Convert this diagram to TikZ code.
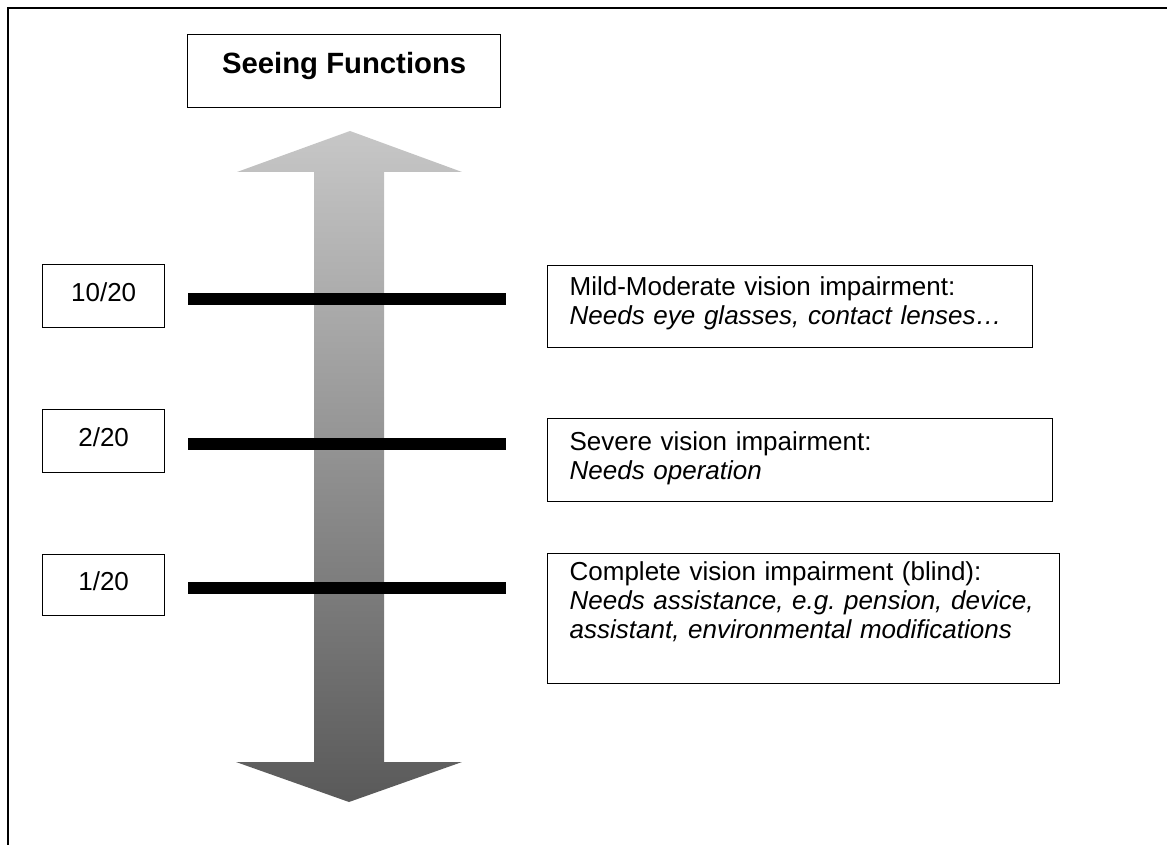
\documentclass[tikz,border=0pt]{standalone}
\usepackage{fontspec}
\setmainfont{Liberation Sans}
\frenchspacing
\definecolor{arrtop}{gray}{0.78}
\definecolor{arrbot}{gray}{0.35}
\tikzset{
  box/.style={draw, line width=1.3pt, inner sep=0pt, fill=white},
  txt/.style={font=\fontsize{26}{29}\selectfont},
  descbox/.style={box, txt, anchor=north west, align=left, inner xsep=22pt, inner ysep=0pt},
  valbox/.style={box, txt, anchor=north west, minimum width=122pt, text height=18.5pt, text depth=8.5pt},
  levelbar/.style={line width=11.5pt},
  frame/.style={line width=1.6pt}
}
\begin{document}
\begin{tikzpicture}[x=1pt,y=-1pt]
\useasboundingbox (0,0) rectangle (1167,845);
% frame
\coordinate (fbl) at (8,845);
\coordinate (ftl) at (8,8);
\coordinate (ftr) at (1167,8);
\draw[frame] (fbl) -- (ftl) -- (ftr);
% title
\node[box, anchor=north west, minimum width=313pt, minimum height=73pt,
      font=\bfseries\fontsize{29.3}{31}\selectfont, text height=25pt, text depth=20pt]
      (title) at (187,34) {Seeing Functions};
% gradient double arrow
\shade[top color=arrtop, bottom color=arrbot]
  (350,131) -- (462,172) -- (384,172) -- (384,762) -- (462,762) -- (349,802)
  -- (236,762) -- (314,762) -- (314,172) -- (237,172) -- cycle;
% value boxes
\node[valbox, minimum height=63pt] (v10) at (42,264) {10/20};
\node[valbox, minimum height=63pt] (v2) at (42,409) {2/20};
\node[valbox, minimum height=61pt] (v1) at (42,554) {1/20};
% level bars
\coordinate (b10s) at (188,299); \coordinate (b10e) at (506,299);
\coordinate (b2s) at (188,444);  \coordinate (b2e) at (506,444);
\coordinate (b1s) at (188,588);  \coordinate (b1e) at (506,588);
\draw[levelbar] (b10s) -- (b10e);
\draw[levelbar] (b2s) -- (b2e);
\draw[levelbar] (b1s) -- (b1e);
% description boxes
\node[descbox, text width=441pt, minimum height=82pt, text depth=42pt] (mild) at (547,265)
  {\mbox{Mild-Moderate vision impairment:}\\\mbox{\itshape Needs eye glasses, contact lenses…}};
\node[descbox, text width=461pt, minimum height=83pt, text depth=38pt] (severe) at (547,418)
  {\mbox{Severe vision impairment:}\\\mbox{\itshape Needs operation}};
\node[descbox, text width=468pt, minimum height=130pt, text depth=95pt] (complete) at (547,553)
  {\mbox{Complete vision impairment (blind):}\\\mbox{\itshape Needs assistance, e.g. pension, device,}\\\mbox{\itshape assistant, environmental modifications}};
\end{tikzpicture}
\end{document}
